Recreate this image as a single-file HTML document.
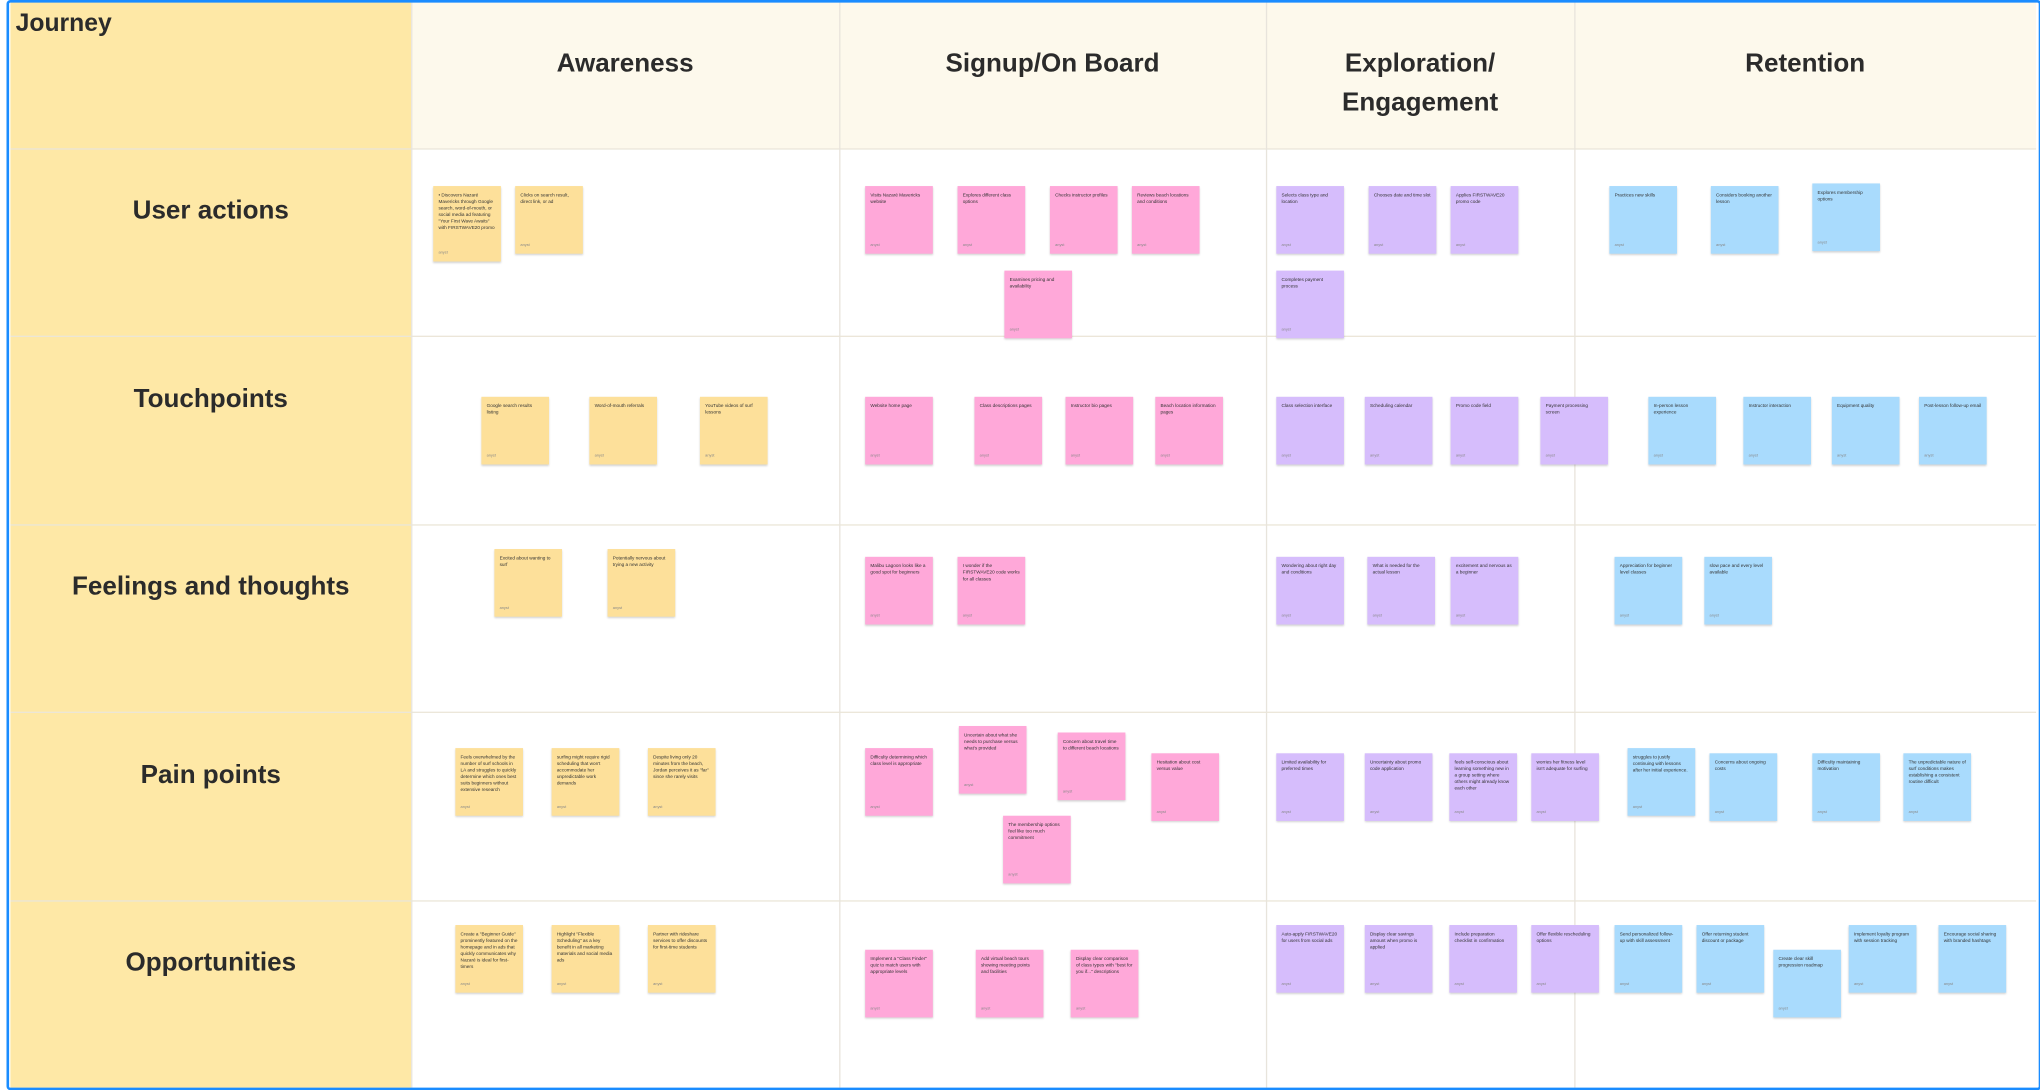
<!DOCTYPE html>
<html><head><meta charset="utf-8">
<style>
html,body{margin:0;padding:0;width:2040px;height:1090px;overflow:hidden;background:#fff;}
#w{position:absolute;left:0;top:0;width:1568px;height:838px;transform:scale(1.30102);transform-origin:0 0;font-family:"Liberation Sans",sans-serif;}
.a{position:absolute;}
.hl{position:absolute;left:8px;right:3px;height:1px;background:#ebe6d8;}
.vl{position:absolute;top:0;bottom:2px;width:1px;background:#e8e4dc;}
.h{position:absolute;font-weight:bold;font-size:20px;color:#2b2b2b;text-align:center;line-height:30px;}
.r{position:absolute;left:8px;width:308px;text-align:center;font-weight:bold;font-size:20px;color:#2b2b2b;}
.s{position:absolute;width:52px;height:52px;box-sizing:border-box;padding:5px 4px;font-size:3.6px;line-height:5px;color:#333;box-shadow:0 1px 1.5px rgba(0,0,0,.18);overflow:hidden;}
.s:after{content:"anyst";position:absolute;left:4px;bottom:4px;font-size:3px;color:#888;}
.y{background:#fde09a}.p{background:#ffa8d9}.u{background:#d6bdfc}.b{background:#a9dbfd}
</style></head><body><div id="w">
<div class="a" style="left:8px;top:0;width:308px;height:836px;background:#fee8a6"></div>
<div class="a" style="left:316px;top:0;width:1249px;height:114px;background:#fdf9ec"></div>
<div class="hl" style="top:114px"></div><div class="hl" style="top:258px"></div><div class="hl" style="top:403px"></div><div class="hl" style="top:547px"></div><div class="hl" style="top:692px"></div>
<div class="vl" style="left:316px"></div><div class="vl" style="left:645px"></div><div class="vl" style="left:973px"></div><div class="vl" style="left:1210px"></div>
<div class="a" style="left:5px;top:0;width:1560px;height:834px;border:2px solid #1a8cff;border-radius:3px"></div>
<div class="a" style="left:12px;top:8px;font-size:19px;font-weight:bold;color:#2b2b2b">Journey</div>
<div class="h" style="left:316px;width:329px;top:34px">Awareness</div>
<div class="h" style="left:645px;width:328px;top:34px">Signup/On Board</div>
<div class="h" style="left:973px;width:237px;top:34px">Exploration/<br>Engagement</div>
<div class="h" style="left:1210px;width:355px;top:34px">Retention</div>
<div class="r" style="top:151px">User actions</div>
<div class="r" style="top:296px">Touchpoints</div>
<div class="r" style="top:440px">Feelings and thoughts</div>
<div class="r" style="top:585px">Pain points</div>
<div class="r" style="top:729px">Opportunities</div>

<div class="s y" style="left:333px;top:143px;height:58px">• Discovers Nazaré Mavericks through Google search, word-of-mouth, or social media ad featuring "Your First Wave Awaits" with FIRSTWAVE20 promo</div>
<div class="s y" style="left:396px;top:143px">Clicks on search result, direct link, or ad</div>
<div class="s p" style="left:665px;top:143px">Visits Nazaré Mavericks website</div>
<div class="s p" style="left:736px;top:143px">Explores different class options</div>
<div class="s p" style="left:807px;top:143px">Checks instructor profiles</div>
<div class="s p" style="left:870px;top:143px">Reviews beach locations and conditions</div>
<div class="s p" style="left:772px;top:208px">Examines pricing and availability</div>
<div class="s u" style="left:981px;top:143px">Selects class type and location</div>
<div class="s u" style="left:1052px;top:143px">Chooses date and time slot</div>
<div class="s u" style="left:1115px;top:143px">Applies FIRSTWAVE20 promo code</div>
<div class="s u" style="left:981px;top:208px">Completes payment process</div>
<div class="s b" style="left:1237px;top:143px">Practices new skills</div>
<div class="s b" style="left:1315px;top:143px">Considers booking another lesson</div>
<div class="s b" style="left:1393px;top:141px">Explores membership options</div>

<div class="s y" style="left:370px;top:305px">Google search results listing</div>
<div class="s y" style="left:453px;top:305px">Word-of-mouth referrals</div>
<div class="s y" style="left:538px;top:305px">YouTube videos of surf lessons</div>
<div class="s p" style="left:665px;top:305px">Website home page</div>
<div class="s p" style="left:749px;top:305px">Class descriptions pages</div>
<div class="s p" style="left:819px;top:305px">Instructor bio pages</div>
<div class="s p" style="left:888px;top:305px">Beach location information pages</div>
<div class="s u" style="left:981px;top:305px">Class selection interface</div>
<div class="s u" style="left:1049px;top:305px">Scheduling calendar</div>
<div class="s u" style="left:1115px;top:305px">Promo code field</div>
<div class="s u" style="left:1184px;top:305px">Payment processing screen</div>
<div class="s b" style="left:1267px;top:305px">In-person lesson experience</div>
<div class="s b" style="left:1340px;top:305px">Instructor interaction</div>
<div class="s b" style="left:1408px;top:305px">Equipment quality</div>
<div class="s b" style="left:1475px;top:305px">Post-lesson follow-up email</div>

<div class="s y" style="left:380px;top:422px">Excited about wanting to surf</div>
<div class="s y" style="left:467px;top:422px">Potentially nervous about trying a new activity</div>
<div class="s p" style="left:665px;top:428px">Malibu Lagoon looks like a good spot for beginners</div>
<div class="s p" style="left:736px;top:428px">I wonder if the FIRSTWAVE20 code works for all classes</div>
<div class="s u" style="left:981px;top:428px">Wondering about right day and conditions</div>
<div class="s u" style="left:1051px;top:428px">What is needed for the actual lesson</div>
<div class="s u" style="left:1115px;top:428px">excitement and nervous as a beginner</div>
<div class="s b" style="left:1241px;top:428px">Appreciation for beginner level classes</div>
<div class="s b" style="left:1310px;top:428px">slow pace and every level available</div>

<div class="s y" style="left:350px;top:575px">Feels overwhelmed by the number of surf schools in LA and struggles to quickly determine which ones best suits beginners without extensive research</div>
<div class="s y" style="left:424px;top:575px">surfing might require rigid scheduling that won't accommodate her unpredictable work demands</div>
<div class="s y" style="left:498px;top:575px">Despite living only 20 minutes from the beach, Jordan perceives it as "far" since she rarely visits</div>
<div class="s p" style="left:665px;top:575px">Difficulty determining which class level is appropriate</div>
<div class="s p" style="left:737px;top:558px">Uncertain about what she needs to purchase versus what's provided</div>
<div class="s p" style="left:813px;top:563px">Concern about travel time to different beach locations</div>
<div class="s p" style="left:885px;top:579px">Hesitation about cost versus value</div>
<div class="s p" style="left:771px;top:627px">The membership options feel like too much commitment</div>
<div class="s u" style="left:981px;top:579px">Limited availability for preferred times</div>
<div class="s u" style="left:1049px;top:579px">Uncertainty about promo code application</div>
<div class="s u" style="left:1114px;top:579px">feels self-conscious about learning something new in a group setting where others might already know each other</div>
<div class="s u" style="left:1177px;top:579px">worries her fitness level isn't adequate for surfing</div>
<div class="s b" style="left:1251px;top:575px">struggles to justify continuing with lessons after her initial experience.</div>
<div class="s b" style="left:1314px;top:579px">Concerns about ongoing costs</div>
<div class="s b" style="left:1393px;top:579px">Difficulty maintaining motivation</div>
<div class="s b" style="left:1463px;top:579px">The unpredictable nature of surf conditions makes establishing a consistent routine difficult</div>

<div class="s y" style="left:350px;top:711px">Create a "Beginner Guide" prominently featured on the homepage and in ads that quickly communicates why Nazaré is ideal for first-timers</div>
<div class="s y" style="left:424px;top:711px">Highlight "Flexible Scheduling" as a key benefit in all marketing materials and social media ads</div>
<div class="s y" style="left:498px;top:711px">Partner with rideshare services to offer discounts for first-time students</div>
<div class="s p" style="left:665px;top:730px">Implement a "Class Finder" quiz to match users with appropriate levels</div>
<div class="s p" style="left:750px;top:730px">Add virtual beach tours showing meeting points and facilities</div>
<div class="s p" style="left:823px;top:730px">Display clear comparison of class types with "best for you if..." descriptions</div>
<div class="s u" style="left:981px;top:711px">Auto-apply FIRSTWAVE20 for users from social ads</div>
<div class="s u" style="left:1049px;top:711px">Display clear savings amount when promo is applied</div>
<div class="s u" style="left:1114px;top:711px">Include preparation checklist in confirmation</div>
<div class="s u" style="left:1177px;top:711px">Offer flexible rescheduling options</div>
<div class="s b" style="left:1241px;top:711px">Send personalized follow-up with skill assessment</div>
<div class="s b" style="left:1304px;top:711px">Offer returning student discount or package</div>
<div class="s b" style="left:1363px;top:730px">Create clear skill progression roadmap</div>
<div class="s b" style="left:1421px;top:711px">Implement loyalty program with session tracking</div>
<div class="s b" style="left:1490px;top:711px">Encourage social sharing with branded hashtags</div>
</div></body></html>
